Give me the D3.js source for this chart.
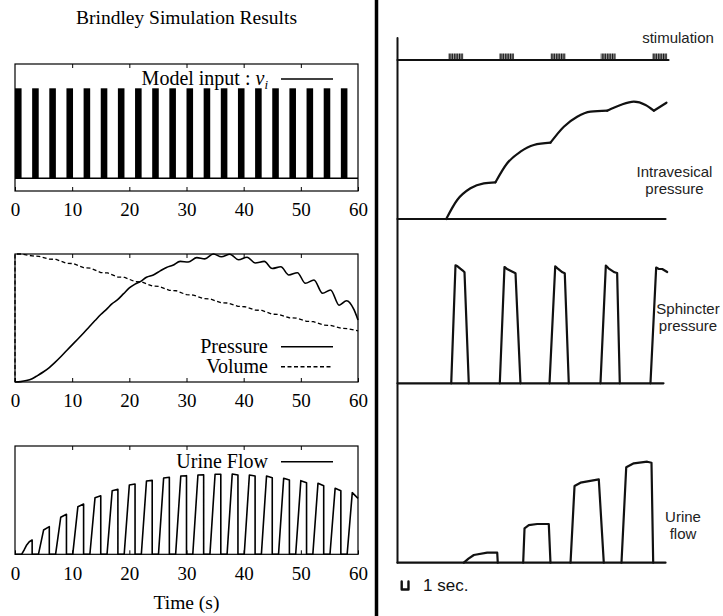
<!DOCTYPE html>
<html>
<head>
<meta charset="utf-8">
<script src="https://cdn.jsdelivr.net/npm/d3@7"></script>
<style>
  body { margin: 0; background: #fff; }
  svg { display: block; }
</style>
</head>
<body>
<svg id="chart"></svg>
<script>
// ---------- simulation (left column) ----------
let timeTicks = [0, 10, 20, 30, 40, 50, 60];

// model input: square pulses, onset times (s) and on-time
let stimOnsets = [0, 3, 6, 9, 12, 15, 18, 21, 24, 27, 30, 33, 36, 39, 42, 45, 48, 51, 54, 57];
let stimLength = 1.15;

// normalised bladder pressure [t, p]
let pressure = [
  [0, 0], [1, 0.003], [2, 0.011], [3, 0.026], [4, 0.052], [5, 0.08], [6, 0.113], [7, 0.153],
  [8, 0.197], [9, 0.244], [10, 0.29], [11, 0.336], [12, 0.383], [13, 0.432], [14, 0.48],
  [15, 0.527], [16, 0.568], [17, 0.612], [18, 0.645], [19, 0.69], [20, 0.735], [21, 0.765],
  [22, 0.786], [23, 0.818], [24.2, 0.836], [25.4, 0.868], [26.5, 0.895], [27.6, 0.912],
  [28.9, 0.942], [30.3, 0.937], [31.8, 0.972], [33.2, 0.962], [34.7, 1.0], [36.1, 0.978],
  [37.6, 0.998], [39.1, 0.955], [40.6, 0.975], [42.0, 0.93], [43.6, 0.942], [45.0, 0.887],
  [46.5, 0.90], [47.9, 0.836], [49.4, 0.854], [50.8, 0.771], [52.3, 0.797], [53.8, 0.693],
  [55.2, 0.719], [56.7, 0.60], [58.0, 0.635], [59.3, 0.565], [60, 0.484]
];

// normalised bladder volume [t, v]
let volume = [
  [0, 0], [0, 1.0], [1.2, 1.0], [3, 0.985], [4.2, 0.982], [6, 0.96], [7.2, 0.958], [9, 0.928],
  [10.2, 0.925], [12, 0.893], [13.2, 0.89], [15, 0.855], [16.2, 0.852], [18, 0.82], [19.2, 0.817],
  [21, 0.784], [22.2, 0.781], [24, 0.75], [25.2, 0.747], [27, 0.716], [28.2, 0.713], [30, 0.682],
  [31.2, 0.679], [33, 0.651], [34.2, 0.648], [36, 0.62], [37.2, 0.617], [39, 0.591], [40.2, 0.588],
  [42, 0.562], [43.2, 0.559], [45, 0.53], [46.2, 0.527], [48, 0.502], [49.2, 0.499], [51, 0.474],
  [52.2, 0.471], [54, 0.445], [55.2, 0.442], [57, 0.42], [58.2, 0.417], [60, 0.40]
];

// urine flow: first (rounded) pulse, then [tRise, tTop, tFall, hTop, hFall]
let firstFlow = [[0, 0], [1.15, 0], [1.6, 0.04], [2.05, 0.086], [2.5, 0.116], [3.0, 0.132], [3.0, 0]];
let flowPulses = [
  [4.1, 5.0, 6.0, 0.224, 0.255], [7.1, 8.0, 9.0, 0.342, 0.369], [10.1, 11.0, 12.0, 0.44, 0.464],
  [13.1, 14.0, 15.0, 0.523, 0.541], [16.1, 17.0, 18.0, 0.587, 0.60], [19.1, 20.0, 21.0, 0.64, 0.649],
  [22.1, 23.0, 24.0, 0.677, 0.683], [25.1, 26.0, 27.0, 0.705, 0.711], [28.1, 29.0, 30.0, 0.723, 0.726],
  [31.1, 32.0, 33.0, 0.732, 0.735], [34.1, 35.0, 36.0, 0.739, 0.739], [37.1, 38.0, 39.0, 0.742, 0.732],
  [40.1, 41.0, 42.0, 0.732, 0.723], [43.1, 44.0, 45.0, 0.723, 0.707], [46.1, 47.0, 48.0, 0.702, 0.686],
  [49.1, 50.0, 51.0, 0.68, 0.661], [52.1, 53.0, 54.0, 0.656, 0.633], [55.1, 56.0, 57.0, 0.609, 0.587],
  [58.1, 59.0, 60.0, 0.569, 0.517]
];

// ---------- recording (right column), time in s ----------
let burstOnsets = [7.5, 15.0, 22.6, 30.0, 37.6];
let burstLength = 2.2;

let ipArcs = [
  [[7.19, 0], [8.81, 19], [10.77, 30.7], [12.74, 35.7], [14.46, 36.7]],
  [[14.46, 36.7], [16.19, 55.7], [18.15, 67.3], [20.12, 74], [22.58, 76.3]],
  [[22.58, 76.3], [24.55, 92.3], [26.52, 102.3], [28.49, 107.3], [30.95, 108.3]],
  [[30.95, 108.3], [32.92, 114], [34.88, 117.3], [36.61, 114], [37.83, 108.3]],
  [[37.83, 108.3], [39.70, 116.3]]
];

let spPulses = [
  [[7.93, 0], [8.56, 118], [8.86, 117], [9.59, 113], [9.89, 111], [10.52, 0]],
  [[15.10, 0], [15.79, 116.3], [16.24, 114], [17.12, 111], [17.42, 110], [18.15, 0]],
  [[22.44, 0], [23.28, 117], [23.62, 115], [24.35, 111], [24.69, 110], [25.28, 0]],
  [[29.96, 0], [30.75, 117.7], [31.14, 115], [32.03, 111], [32.42, 110.3], [32.81, 0]],
  [[37.34, 0], [38.18, 115.7], [38.52, 114.5], [39.07, 114.3], [39.81, 111.3]]
];

let ufPulses = [
  [[9.79, 0], [10.48, 4], [11.27, 7.7], [13.24, 10], [14.72, 10], [14.80, 0]],
  [[18.55, 0], [18.75, 34.4], [19.38, 37.5], [20.62, 38.7], [22.33, 38.7], [22.58, 0]],
  [[25.54, 0], [26.13, 76.7], [27.01, 80], [29.71, 83.4], [30.45, 0]],
  [[33.06, 0], [33.76, 95.4], [34.88, 99.4], [36.86, 101], [37.49, 100], [37.74, 0]]
];

// ---------------------------------------------------------
let width = 723, height = 616;
let serif = "'Liberation Serif', 'Times New Roman', serif";
let sans = "'Liberation Sans', Arial, sans-serif";

let svg = d3.select("#chart")
  .attr("width", width)
  .attr("height", height);

svg.append("defs").append("pattern")
    .attr("id", "burst")
    .attr("width", 1.7).attr("height", 8)
    .attr("patternUnits", "userSpaceOnUse")
  .append("rect")
    .attr("width", 1.2).attr("height", 8)
    .attr("fill", "#111");

let x = d3.scaleLinear().domain([0, 60]).range([15, 358]);

function frame(top, bottom) {
  let g = svg.append("g");
  g.append("rect")
    .attr("x", x(0)).attr("y", top)
    .attr("width", x(60) - x(0)).attr("height", bottom - top)
    .attr("fill", "none").attr("stroke", "#000").attr("stroke-width", 1.2);
  g.append("g")
    .attr("transform", `translate(0,${bottom})`)
    .call(d3.axisBottom(x).tickValues(timeTicks).tickSizeInner(-4).tickSizeOuter(0).tickPadding(12))
    .attr("font-family", serif).attr("font-size", 19)
    .call(a => a.select(".domain").remove());
  g.append("g")
    .attr("transform", `translate(0,${top})`)
    .call(d3.axisTop(x).tickValues(timeTicks.slice(1, -1)).tickSizeInner(-4).tickSizeOuter(0).tickFormat(""))
    .call(a => a.select(".domain").remove());
  return g;
}

function legendRow(label, y, dash) {
  let t = svg.append("text")
    .attr("x", 268).attr("y", y + 6)
    .attr("text-anchor", "end")
    .attr("font-family", serif).attr("font-size", 20);
  svg.append("line")
    .attr("x1", 281).attr("x2", 333).attr("y1", y).attr("y2", y)
    .attr("stroke", "#000").attr("stroke-width", 1.5)
    .attr("stroke-dasharray", dash ? "4,2.5" : null);
  if (label) t.text(label);
  return t;
}

svg.append("text")
  .attr("x", 186.5).attr("y", 24)
  .attr("text-anchor", "middle")
  .attr("font-family", serif).attr("font-size", 19.5)
  .text("Brindley Simulation Results");

// panel 1: model input
frame(64, 191);
let yIn = d3.scaleLinear().domain([-0.141, 1.27]).range([191, 64]);
svg.append("line")
  .attr("x1", x(0)).attr("x2", x(60)).attr("y1", yIn(0)).attr("y2", yIn(0))
  .attr("stroke", "#000").attr("stroke-width", 1.5);
svg.append("g").selectAll("rect")
  .data(stimOnsets)
  .join("rect")
    .attr("x", d => x(d))
    .attr("y", yIn(1))
    .attr("width", x(stimLength) - x(0))
    .attr("height", yIn(0) - yIn(1))
    .attr("fill", "#000");
let inLeg = legendRow(null, 79, false);
inLeg.append("tspan").text("Model input : ");
inLeg.append("tspan").attr("font-style", "italic").text("v");
inLeg.append("tspan").attr("font-size", 13).attr("dy", 4).attr("font-style", "italic").text("i");

// panel 2: pressure and volume
frame(254, 382);
let yPV = d3.scaleLinear().domain([0, 1]).range([382, 254]);
svg.append("path")
  .datum(volume)
  .attr("d", d3.line().x(d => x(d[0])).y(d => yPV(d[1])))
  .attr("fill", "none").attr("stroke", "#000").attr("stroke-width", 1.3)
  .attr("stroke-dasharray", "4,2.5");
svg.append("path")
  .datum(pressure)
  .attr("d", d3.line().curve(d3.curveMonotoneX).x(d => x(d[0])).y(d => yPV(d[1])))
  .attr("fill", "none").attr("stroke", "#000").attr("stroke-width", 1.6);
legendRow("Pressure", 346.7, false);
legendRow("Volume", 366.7, true);

// panel 3: urine flow
frame(446, 554.3);
let yF = d3.scaleLinear().domain([0, 1]).range([554.3, 446]);
let flow = firstFlow.slice();
flowPulses.forEach(p => {
  flow.push([p[0], 0], [p[1], p[3]], [p[2], p[4]]);
  if (p[2] < 60) flow.push([p[2], 0]);
});
svg.append("path")
  .datum(flow)
  .attr("d", d3.line().x(d => x(d[0])).y(d => yF(d[1])))
  .attr("fill", "none").attr("stroke", "#000").attr("stroke-width", 1.6)
  .attr("stroke-linejoin", "round");
legendRow("Urine Flow", 461.7, false);

svg.append("text")
  .attr("x", 186.5).attr("y", 609)
  .attr("text-anchor", "middle")
  .attr("font-family", serif).attr("font-size", 19.5)
  .text("Time (s)");

// divider
svg.append("line")
  .attr("x1", 376.5).attr("x2", 376.5).attr("y1", 0).attr("y2", height)
  .attr("stroke", "#000").attr("stroke-width", 3.5);

// ---------- right column ----------
let xr = d3.scaleLinear().domain([0, 40]).range([397.5, 668.5]);
let yStim = d3.scaleLinear().domain([0, 1]).range([60, 53.5]);
let yIP = d3.scaleLinear().domain([0, 120]).range([219, 99]);
let ySP = d3.scaleLinear().domain([0, 130]).range([383.3, 253.3]);
let yUF = d3.scaleLinear().domain([0, 110]).range([562.7, 452.7]);

let ink = "#111";
let trace = (sel, w) => sel.attr("fill", "none").attr("stroke", ink)
  .attr("stroke-width", w).attr("stroke-linejoin", "round").attr("stroke-linecap", "round");

// vertical axis
trace(svg.append("line")
  .attr("x1", xr(0)).attr("x2", xr(0)).attr("y1", 38).attr("y2", yUF(0)), 2);

// baselines
[[yStim, 40], [yIP, 39.56], [ySP, 39.26], [yUF, 39.56]].forEach(([ys, end]) => {
  trace(svg.append("line")
    .attr("x1", xr(0)).attr("x2", xr(end)).attr("y1", ys(0)).attr("y2", ys(0)), 2.2);
});

// stimulation bursts
svg.append("g").selectAll("rect")
  .data(burstOnsets)
  .join("rect")
    .attr("x", d => xr(d))
    .attr("y", yStim(1))
    .attr("width", xr(burstLength) - xr(0))
    .attr("height", yStim(0) - yStim(1))
    .attr("fill", "url(#burst)");

let ipLine = d3.line().curve(d3.curveMonotoneX).x(d => xr(d[0])).y(d => yIP(d[1]));
trace(svg.append("g").selectAll("path").data(ipArcs).join("path").attr("d", ipLine), 2.2);

let spLine = d3.line().x(d => xr(d[0])).y(d => ySP(d[1]));
trace(svg.append("g").selectAll("path").data(spPulses).join("path").attr("d", spLine), 2.2);

let ufLine = d3.line().x(d => xr(d[0])).y(d => yUF(d[1]));
trace(svg.append("g").selectAll("path").data(ufPulses).join("path").attr("d", ufLine), 2.2);

// labels
let rightLabels = [
  ["stimulation", 678, 42.5],
  ["Intravesical", 674.5, 177],
  ["pressure", 674.5, 194],
  ["Sphincter", 688, 314],
  ["pressure", 688, 331],
  ["Urine", 683, 522],
  ["flow", 683, 539]
];
svg.append("g").selectAll("text")
  .data(rightLabels)
  .join("text")
    .attr("x", d => d[1]).attr("y", d => d[2])
    .attr("text-anchor", "middle")
    .attr("font-family", sans).attr("font-size", 15)
    .attr("fill", "#222")
    .text(d => d[0]);

// time bar: 1 sec
trace(svg.append("path")
  .attr("d", `M${xr(0.62)},581.5V589.5H${xr(1.62)}V581.5`), 2.4);
svg.append("text")
  .attr("x", 423).attr("y", 590.5)
  .attr("font-family", sans).attr("font-size", 17)
  .attr("fill", "#111")
  .text("1 sec.");
</script>
</body>
</html>
